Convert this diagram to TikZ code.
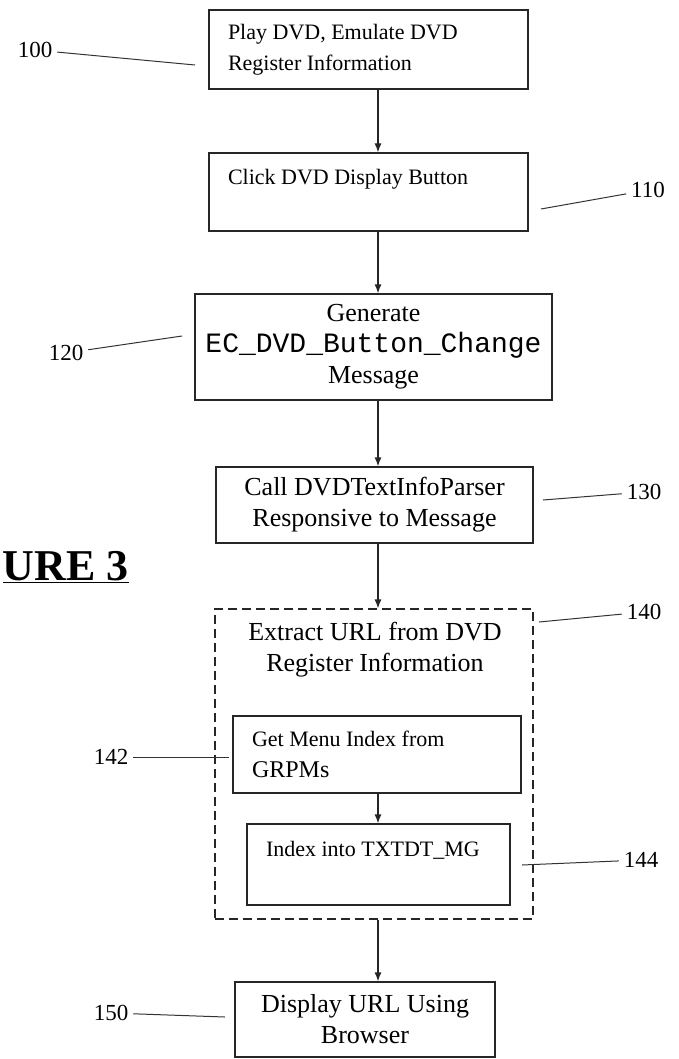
\documentclass[tikz,border=0pt]{standalone}
\usepackage{fontspec}
\setmainfont{Liberation Serif}
\setmonofont{Liberation Mono}
\usepackage{tikz}
\usetikzlibrary{arrows.meta}
\usetikzlibrary{calc}

\begin{document}
\begin{tikzpicture}[x=1pt, y=-1pt,
    box/.style={draw=black!85, line width=1.2pt, inner sep=0pt,
      font=\fontsize{26}{31}\selectfont, align=center},
    leftbox/.style={draw=black!85, line width=1.2pt, inner xsep=19pt, inner ysep=0pt,
      font=\fontsize{22}{31}\selectfont, align=flush left},
    groupbox/.style={draw=black!85, line width=1.2pt, dash pattern=on 9pt off 5pt, inner sep=0pt},
    ref/.style={font=\fontsize{23}{23}\selectfont, inner sep=0pt, outer sep=5pt},
    lead/.style={draw=black!80, line width=1pt},
    flow/.style={draw=black!85, line width=1.2pt, -{Latex[length=9pt,width=7pt]}}]

    \useasboundingbox (0,0) rectangle (678,1059);

    % steps
    \node[leftbox, text width=281pt, minimum height=79pt] (play) at (368.5,49.5)
      {Play DVD, Emulate DVD\\Register Information};
    \node[leftbox, text width=281pt, minimum height=78pt] (click) at (368.5,192)
      {Click DVD Display Button\\\mbox{}};
    \node[box, minimum width=357pt, minimum height=106pt] (gen) at (373.5,347)
      {Generate\\{\fontsize{28}{31}\selectfont\ttfamily EC\_DVD\_Button\_Change}\\Message};
    \node[box, minimum width=317pt, minimum height=76pt] (call) at (374.5,505)
      {Call DVDTextInfoParser\\Responsive to Message};
    \node[groupbox, minimum width=318pt, minimum height=310pt] (extract) at (374,764) {};
    \node[box, draw=none] (xtitle) at (375,650)
      {Extract URL from DVD\\Register Information};
    \node[leftbox, text width=250pt, minimum height=77pt] (menu) at (377,754.5)
      {Get Menu Index from\\{\fontsize{24}{31}\selectfont GRPMs}};
    \node[leftbox, text width=225pt, minimum height=81pt] (index) at (378.5,864.5)
      {Index into TXTDT\_MG\\\mbox{}};
    \node[box, minimum width=260pt, minimum height=75pt] (display) at (365,1019.5)
      {Display URL Using\\Browser};

    % flow
    \coordinate (ax) at (378,0);
    \draw[flow] (play.south -| ax) -- (click.north -| ax);
    \draw[flow] (click.south -| ax) -- (gen.north -| ax);
    \draw[flow] (gen.south -| ax) -- (call.north -| ax);
    \draw[flow] (call.south -| ax) -- (extract.north -| ax);
    \draw[flow] (menu.south -| ax) -- (index.north -| ax);
    \draw[flow] (extract.south -| ax) -- (display.north -| ax);

    % reference numerals
    \node[ref] (r100) at (35,50) {100};
    \node[ref] (r110) at (648,190) {110};
    \node[ref] (r120) at (66,353) {120};
    \node[ref] (r130) at (644,492) {130};
    \node[ref] (r140) at (644,612) {140};
    \node[ref] (r142) at (111,757) {142};
    \node[ref] (r144) at (641,860) {144};
    \node[ref] (r150) at (111,1013) {150};
    \coordinate (e100) at (195,65);
    \coordinate (e110) at (541,209);
    \coordinate (e120) at (182,336);
    \coordinate (e130) at (543,500);
    \coordinate (e140) at (539,622);
    \coordinate (e142) at (229,757);
    \coordinate (e144) at (522,865);
    \coordinate (e150) at (225,1017);
    \foreach \n in {100,110,120,130,140,142,144,150}
      \draw[lead] (r\n) -- (e\n);

    % figure caption
    \node[anchor=base east, inner sep=0pt, font=\bfseries\fontsize{44}{44}\selectfont]
      (fig) at (129,580) {\underline{URE 3}};

  \end{tikzpicture}
\end{document}
